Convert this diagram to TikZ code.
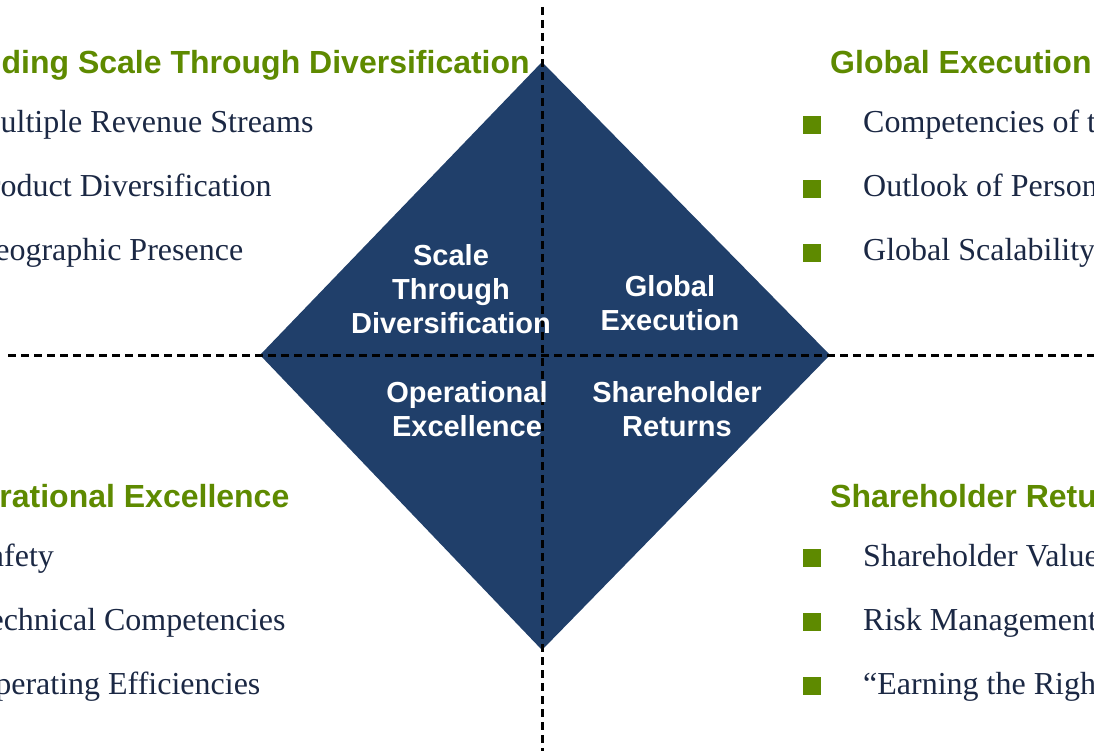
\documentclass[tikz,border=0pt]{standalone}
\usepackage{fontspec}
\setmainfont{Liberation Serif}
\setsansfont{Liberation Sans}
\definecolor{navy}{RGB}{32,63,106}
\definecolor{leaf}{RGB}{94,138,0}
\definecolor{ink}{RGB}{27,40,68}
\begin{document}
\begin{tikzpicture}[x=1pt,y=-1pt,
  heading/.style={anchor=base west, inner sep=0pt, text=leaf,
    font=\sffamily\bfseries\fontsize{32}{38}\selectfont},
  item/.style={anchor=base west, inner sep=0pt, text=ink,
    font=\fontsize{32}{38}\selectfont},
  bulletsq/.style={fill=leaf, minimum size=18pt, inner sep=0pt},
  quadtext/.style={align=center, text=white, inner sep=0pt,
    font=\sffamily\bfseries\fontsize{29}{34}\selectfont},
  divider/.style={black, line width=3pt, dash pattern=on 8pt off 5pt}]

\useasboundingbox (0,0) rectangle (1094,751);
\clip (0,0) rectangle (1094,751);

% central diamond
\coordinate (dt) at (542,62);
\coordinate (dr) at (830,355);
\coordinate (db) at (542,650);
\coordinate (dl) at (260,355);
\fill[navy] (dt) -- (dr) -- (db) -- (dl) -- cycle;

% quadrant dividers
\coordinate (vtop) at (542,7);
\coordinate (vbot) at (542,751);
\coordinate (hl) at (8,355);
\coordinate (hr) at (1094,355);
\draw[divider] (vtop) -- (vbot);
\draw[divider] (hl) -- (hr);

% quadrant labels inside the diamond
\node[quadtext] (qa) at (451,289) {Scale\\Through\\Diversification};
\node[quadtext] (qb) at (670,303) {Global\\Execution};
\node[quadtext] (qc) at (467,409) {Operational\\Excellence};
\node[quadtext] (qd) at (677,409) {Shareholder\\Returns};

% upper left
\node[heading] (h1) at (-59,74) {Building Scale Through Diversification};
\node[item] (a1) at (-28,133) {Multiple Revenue Streams};
\node[item] (a2) at (-28,197) {Product Diversification};
\node[item] (a3) at (-28,261) {Geographic Presence};

% upper right
\node[heading] (h2) at (830,74) {Global Execution};
\node[bulletsq] (p1) at (812,125) {};
\node[bulletsq] (p2) at (812,189) {};
\node[bulletsq] (p3) at (812,253) {};
\node[item] (b1) at (863,133) {Competencies of t};
\node[item] (b2) at (863,197) {Outlook of Person};
\node[item] (b3) at (863,261) {Global Scalability};

% lower left
\node[heading] (h3) at (-63,507) {Operational Excellence};
\node[item] (c1) at (-28,566) {Safety};
\node[item] (c2) at (-28,630) {Technical Competencies};
\node[item] (c3) at (-28,694) {Operating Efficiencies};

% lower right
\node[heading] (h4) at (830,507) {Shareholder Returns};
\node[bulletsq] (q1) at (812,558) {};
\node[bulletsq] (q2) at (812,622) {};
\node[bulletsq] (q3) at (812,686) {};
\node[item] (d1) at (863,566) {Shareholder Value};
\node[item] (d2) at (863,630) {Risk Management};
\node[item] (d3) at (863,694) {``Earning the Righ};
\end{tikzpicture}
\end{document}
